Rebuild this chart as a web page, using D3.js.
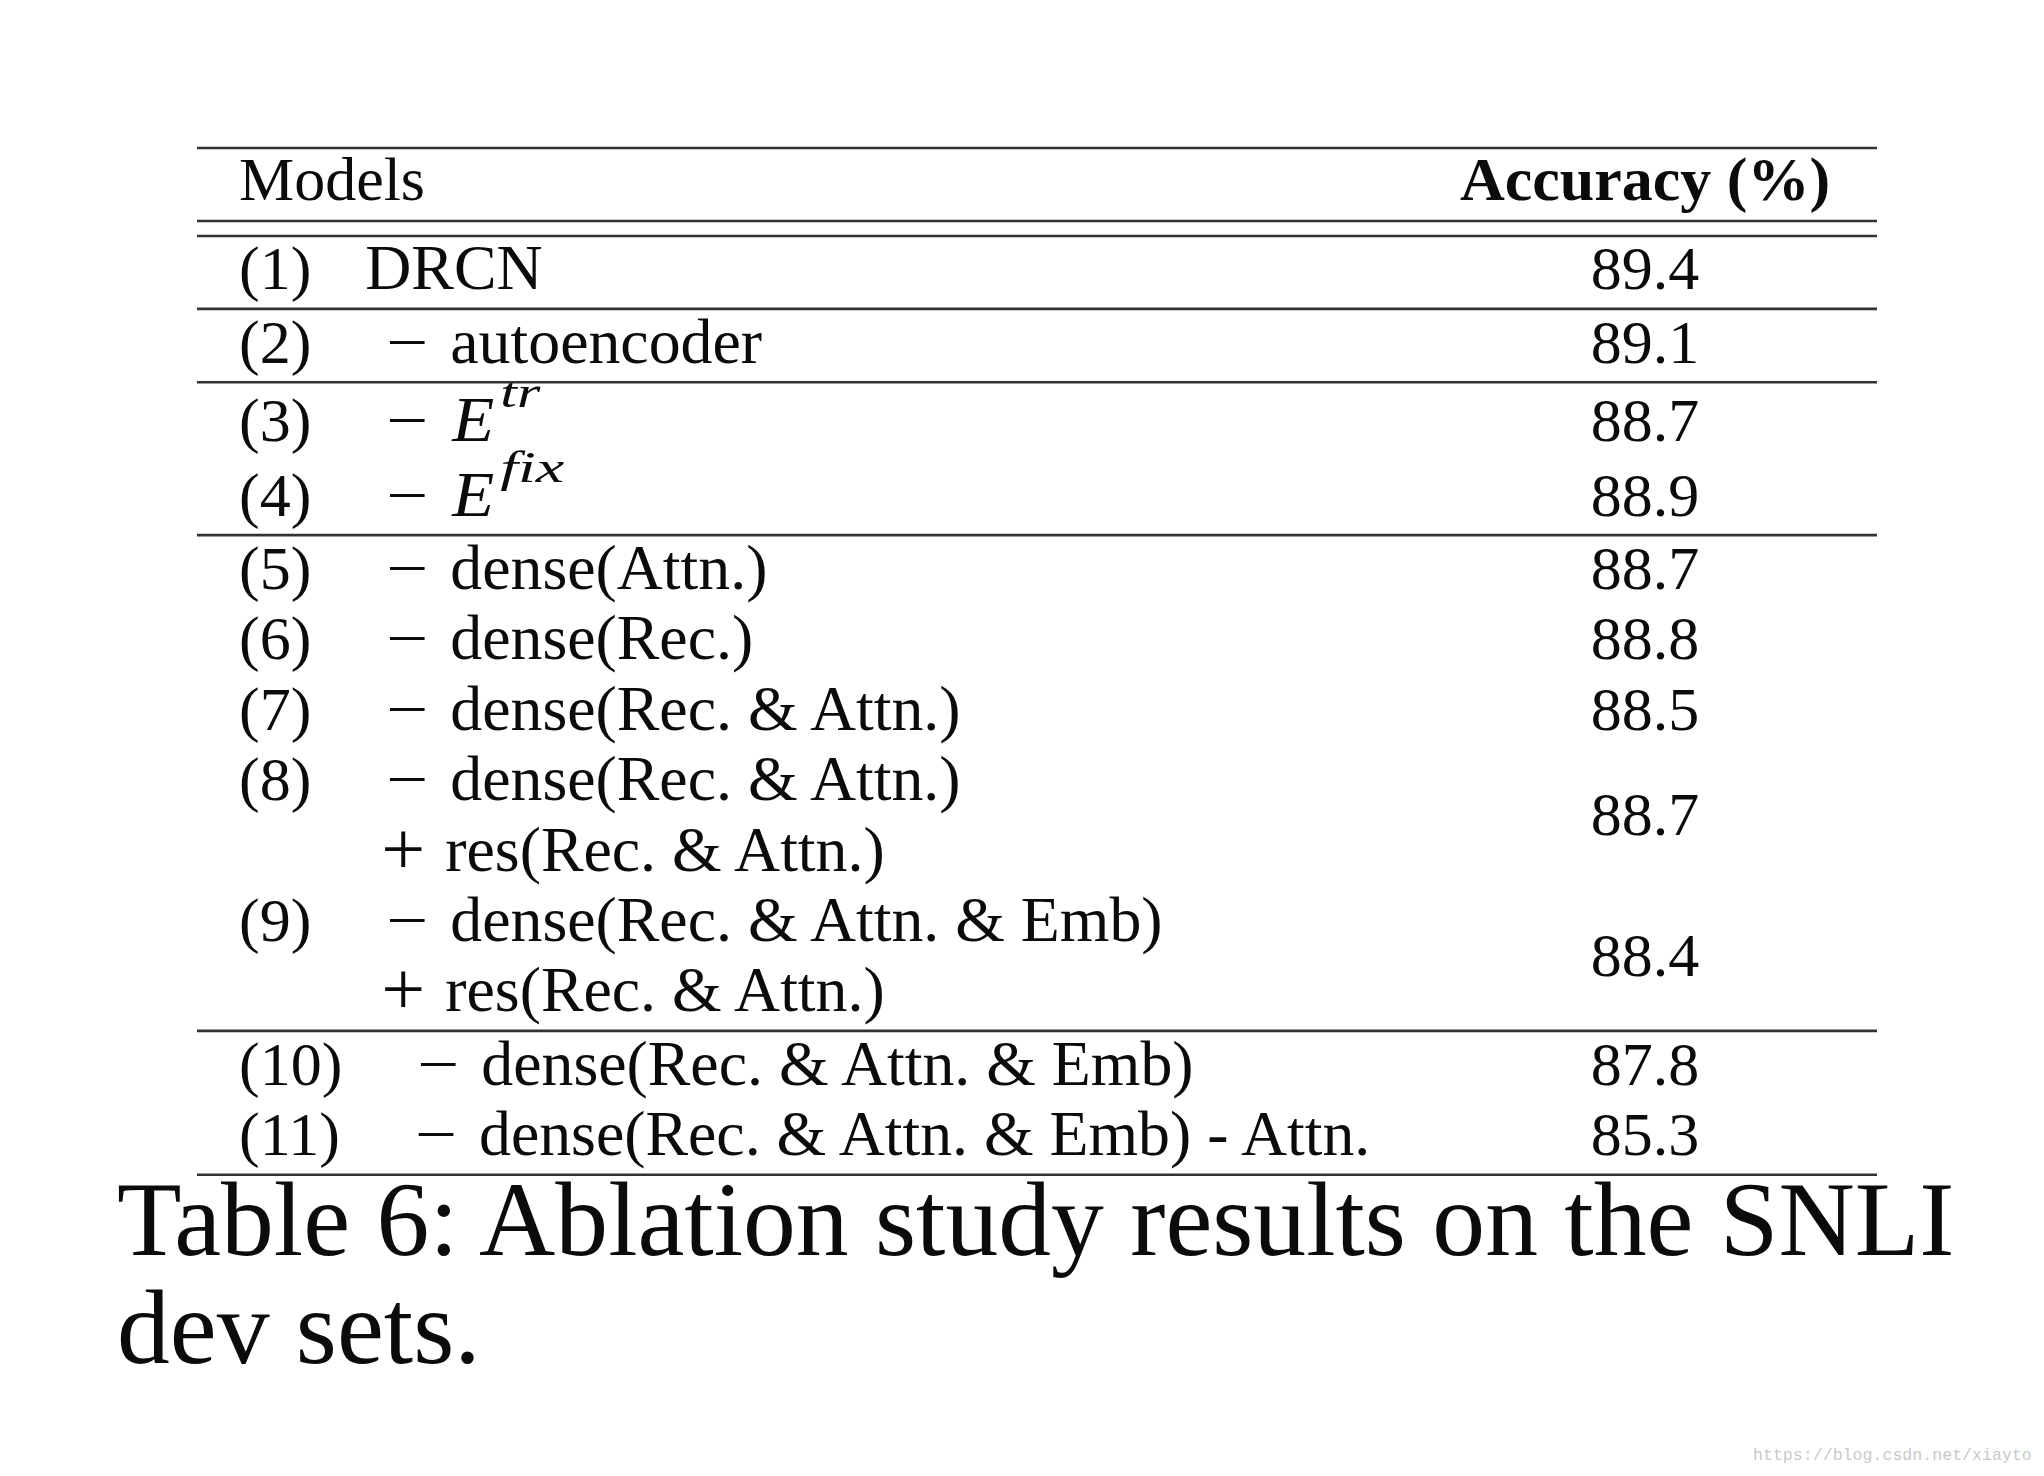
<!DOCTYPE html>
<html>
<head>
<meta charset="utf-8">
<script src="https://cdn.jsdelivr.net/npm/d3@7"></script>
<style>
  html, body { margin: 0; padding: 0; background: #ffffff; }
  svg { display: block; }
</style>
</head>
<body>
<svg id="chart" width="2044" height="1476"></svg>
<script>
// ---------------- data ----------------
const headerLabels = ["Models", "Accuracy (%)"];
const rowLabels = ["(1)", "(2)", "(3)", "(4)", "(5)", "(6)", "(7)", "(8)", "(9)", "(10)", "(11)"];
const rowPrefixes = ["", "\u2212", "\u2212", "\u2212", "\u2212", "\u2212", "\u2212", "\u2212", "\u2212", "\u2212", "\u2212"];
const modelNames = [
  "DRCN",
  "autoencoder",
  "E",
  "E",
  "dense(Attn.)",
  "dense(Rec.)",
  "dense(Rec. & Attn.)",
  "dense(Rec. & Attn.)",
  "dense(Rec. & Attn. & Emb)",
  "dense(Rec. & Attn. & Emb)",
  "dense(Rec. & Attn. & Emb) - Attn."
];
const superscripts = [null, null, "tr", "fix", null, null, null, null, null, null, null];
const secondPrefix = "+";
const secondLines = [null, null, null, null, null, null, null, "res(Rec. & Attn.)", "res(Rec. & Attn.)", null, null];
const accuracy = [89.4, 89.1, 88.7, 88.9, 88.7, 88.8, 88.5, 88.7, 88.4, 87.8, 85.3];
const groups = [0, 1, 2, 2, 3, 3, 3, 3, 3, 4, 4];
const captionLines = ["Table 6: Ablation study results on the SNLI", "dev sets."];
const watermark = "https://blog.csdn.net/xiayto";

// ---------------- layout ----------------
const svg = d3.select("#chart");
svg.append("rect").attr("width", 2044).attr("height", 1476).attr("fill", "#ffffff");

const FONT = "'Liberation Serif', 'Times New Roman', serif";
const FS = 62;        // labels, numbers, header
const FS_NAME = 63.8; // model descriptions
const INK = "#0b0b0b";
const RULE = "#333333";

const tableLeft = 197, tableRight = 1877;
const labelX = 239;
const accCenter = 1645;

// Build text-line list (each row may span 1 or 2 lines)
const lines = [];
let ruleCount = 0, supCount = 0;
rowLabels.forEach((lab, i) => {
  if (i > 0 && groups[i] !== groups[i - 1]) ruleCount++;
  if (superscripts[i]) supCount++;
  lines.push({ row: i, kind: "main", rules: ruleCount, sups: supCount });
  if (secondLines[i]) lines.push({ row: i, kind: "second", rules: ruleCount, sups: supCount });
});
lines.forEach((l, k) => l.index = k);

// line index -> baseline via linear scale + structural gaps
const yLine = d3.scaleLinear().domain([0, lines.length - 1]).range([289.4, 289.4 + 70.4 * (lines.length - 1)]);
const baseY = l => yLine(l.index) + 3 * l.rules + 4.5 * l.sups;

// header
const headerY = 200;
const g = svg.append("g").attr("font-family", FONT).attr("fill", INK);

g.append("text").attr("x", labelX).attr("y", headerY).attr("font-size", FS).text(headerLabels[0]);
g.append("text").attr("x", accCenter).attr("y", headerY).attr("font-size", FS)
  .attr("font-weight", "bold").attr("text-anchor", "middle").text(headerLabels[1]);

// rules
const ruleYs = [148, 221, 236];
lines.forEach((l, k) => {
  const next = lines[k + 1];
  if (!next || groups[next.row] !== groups[l.row]) ruleYs.push(baseY(l) + 19.5);
});
svg.append("g").selectAll("line").data(ruleYs).join("line")
  .attr("x1", tableLeft).attr("x2", tableRight)
  .attr("y1", d => d).attr("y2", d => d)
  .attr("stroke", RULE).attr("stroke-width", 2.6);

// rows
const rowsG = g.append("g");
lines.forEach(l => {
  const i = l.row;
  const y = baseY(l);
  if (l.kind === "main") {
    const lt = rowsG.append("text").attr("x", labelX).attr("y", y).attr("font-size", FS).text(rowLabels[i]);
    const labEnd = labelX + lt.node().getComputedTextLength();
    l.dashX = labEnd + 77;
    if (rowPrefixes[i]) {
      rowsG.append("text").attr("x", l.dashX - 2).attr("y", y).attr("font-size", FS)
        .attr("textLength", 42).attr("lengthAdjust", "spacingAndGlyphs")
        .text(rowPrefixes[i]);
      const nameX = l.dashX + 62;
      if (superscripts[i]) {
        rowsG.append("text").attr("x", nameX + 2).attr("y", y).attr("font-size", 64)
          .attr("font-style", "italic")
          .attr("textLength", 42).attr("lengthAdjust", "spacingAndGlyphs")
          .text(modelNames[i]);
        const supW = superscripts[i].length === 2 ? 40 : 64;
        rowsG.append("text")
          .attr("x", nameX + 50).attr("y", y - 34)
          .attr("font-size", 44).attr("font-style", "italic")
          .attr("textLength", supW).attr("lengthAdjust", "spacingAndGlyphs")
          .text(superscripts[i]);
      } else {
        rowsG.append("text").attr("x", nameX).attr("y", y).attr("font-size", FS_NAME).text(modelNames[i]);
      }
    } else {
      rowsG.append("text").attr("x", labEnd + 54).attr("y", y).attr("font-size", FS_NAME).text(modelNames[i]);
    }
  } else {
    const dashX = lines.find(m => m.row === i && m.kind === "main").dashX;
    rowsG.append("text").attr("x", dashX - 7).attr("y", y + 3).attr("font-size", 76)
      .attr("textLength", 44).attr("lengthAdjust", "spacingAndGlyphs").text(secondPrefix);
    rowsG.append("text").attr("x", dashX + 57).attr("y", y).attr("font-size", FS_NAME).text(secondLines[i]);
  }
});

// accuracy values (centered across the row's lines)
const fmt = d3.format(".1f");
const accY = i => d3.mean(lines.filter(l => l.row === i), baseY);
g.append("g").selectAll("text").data(accuracy).join("text")
  .attr("x", accCenter).attr("y", (d, i) => accY(i))
  .attr("text-anchor", "middle").attr("font-size", FS)
  .text(d => fmt(d));

// caption
svg.append("g").attr("font-family", FONT).attr("fill", INK)
  .selectAll("text").data(captionLines).join("text")
  .attr("x", 117).attr("y", (d, i) => 1255 + i * 108)
  .attr("font-size", 105.6)
  .text(d => d);

// watermark
svg.append("text").attr("x", 1753).attr("y", 1460)
  .attr("font-family", "'Liberation Mono', monospace").attr("font-size", 16.6)
  .attr("fill", "#c9c9c9").text(watermark);
</script>
</body>
</html>
